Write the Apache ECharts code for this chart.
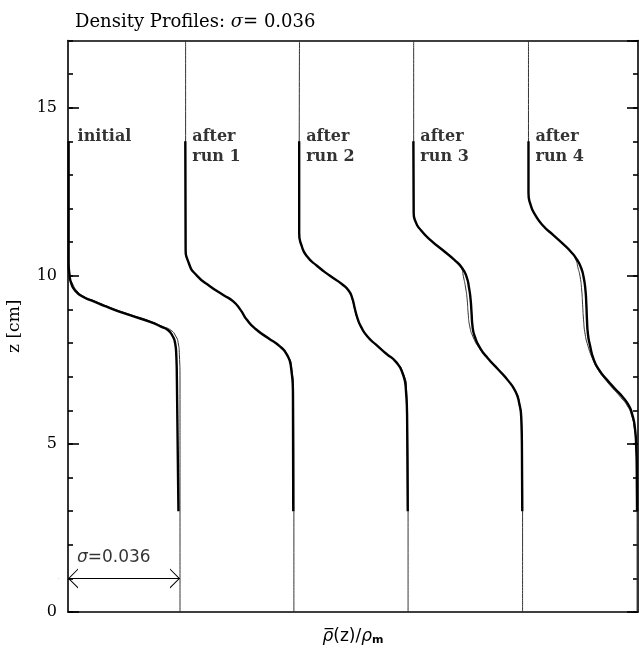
<!DOCTYPE html>
<html><head><meta charset="utf-8">
<script src="https://cdn.jsdelivr.net/npm/echarts@6/dist/echarts.min.js"></script>
<style>html,body{margin:0;padding:0;background:#fff}#c{width:639px;height:650px}</style>
</head><body><div id="c"></div>
<script>
// ---------- data (x = rho/rho_m with per-run offsets as drawn, y = z in cm) ----------
const sigma = 0.036;
const xMax = 0.1832;
const zMax = 17;
const profileNames = ['initial', 'after\nrun 1', 'after\nrun 2', 'after\nrun 3', 'after\nrun 4'];
const labelZ = [14.14, 13.84, 13.84, 13.84, 13.84];
const yTickLabels = ['0', '5', '10', '15'];

const initialThick = [[0.0002,14],[0.0002,10.42],[0.0005,10.03],[0.0011,9.76],[0.0024,9.55],[0.0045,9.39],[0.0077,9.26],[0.0135,9.04],[0.0199,8.83],[0.0264,8.63],[0.0299,8.49],[0.0322,8.38],[0.0336,8.21],[0.0344,8.01],[0.0348,7.65],[0.0350,6.90],[0.0355,3]];
const initialThin = [[0.0,17],[0.0002,10.03],[0.0015,9.76],[0.0029,9.55],[0.0051,9.39],[0.0083,9.26],[0.0141,9.04],[0.0206,8.83],[0.0270,8.63],[0.0305,8.49],[0.0331,8.38],[0.0346,8.21],[0.0354,8.01],[0.0358,7.65],[0.0360,6.90],[0.0360,3],[0.0360,0]];

const run1Thick = [[0.0377,14],[0.0378,10.87],[0.0389,10.36],[0.0415,10.0],[0.0456,9.69],[0.0499,9.43],[0.0531,9.24],[0.0555,8.98],[0.0575,8.69],[0.0604,8.41],[0.0643,8.15],[0.0681,7.90],[0.0704,7.65],[0.0717,7.26],[0.0723,6.46],[0.0724,3]];
const run1Thin = [[0.0378,17],[0.0378,10.87],[0.0389,10.36],[0.0415,10.0],[0.0456,9.69],[0.0499,9.43],[0.0531,9.24],[0.0555,8.98],[0.0575,8.69],[0.0604,8.41],[0.0643,8.15],[0.0681,7.90],[0.0705,7.65],[0.0719,7.26],[0.0725,6.46],[0.0726,3],[0.0726,0]];

const run2Thick = [[0.0743,14],[0.0743,11.28],[0.0751,10.89],[0.0768,10.58],[0.0800,10.30],[0.0842,10.0],[0.0881,9.75],[0.0903,9.55],[0.0914,9.32],[0.0922,9.02],[0.0930,8.75],[0.0942,8.48],[0.0961,8.21],[0.0990,7.95],[0.1022,7.69],[0.1054,7.44],[0.1075,7.11],[0.1086,6.61],[0.1090,5.71],[0.1092,3]];
const run2Thin = [[0.0744,17],[0.0743,11.28],[0.0751,10.89],[0.0768,10.58],[0.0800,10.30],[0.0842,10.0],[0.0881,9.75],[0.0903,9.55],[0.0913,9.32],[0.0921,9.02],[0.0929,8.75],[0.0941,8.48],[0.0961,8.21],[0.0990,7.95],[0.1022,7.69],[0.1055,7.44],[0.1077,7.11],[0.1088,6.61],[0.1091,5.71],[0.1093,3],[0.1093,0]];

const run3Thick = [[0.1110,14],[0.1111,11.88],[0.1117,11.61],[0.1135,11.35],[0.1167,11.05],[0.1205,10.76],[0.1241,10.48],[0.1266,10.24],[0.1281,9.97],[0.1289,9.64],[0.1294,9.29],[0.1297,8.90],[0.1300,8.51],[0.1308,8.18],[0.1324,7.86],[0.1350,7.54],[0.1382,7.22],[0.1414,6.89],[0.1437,6.58],[0.1450,6.22],[0.1457,5.71],[0.1459,4.82],[0.1460,3]];
const run3Thin = [[0.1111,17],[0.1111,11.88],[0.1117,11.61],[0.1135,11.35],[0.1167,11.05],[0.1205,10.76],[0.1241,10.48],[0.1264,10.24],[0.1271,9.97],[0.1278,9.64],[0.1283,9.29],[0.1286,8.90],[0.1291,8.51],[0.1302,8.18],[0.1321,7.86],[0.1349,7.54],[0.1382,7.22],[0.1414,6.89],[0.1438,6.58],[0.1451,6.22],[0.1458,5.71],[0.1460,4.82],[0.1461,3],[0.1461,0]];

const run4Thick = [[0.1480,14],[0.1480,12.47],[0.1487,12.11],[0.1501,11.82],[0.1527,11.49],[0.1559,11.22],[0.1591,10.95],[0.1617,10.71],[0.1636,10.48],[0.1649,10.24],[0.1657,9.97],[0.1663,9.58],[0.1666,9.14],[0.1668,8.69],[0.1671,8.27],[0.1678,7.92],[0.1689,7.53],[0.1707,7.20],[0.1733,6.90],[0.1758,6.64],[0.1784,6.38],[0.1803,6.13],[0.1814,5.86],[0.1822,5.48],[0.1826,4.97],[0.1828,4.23],[0.1829,3]];
const run4Thin = [[0.1480,17],[0.1480,12.47],[0.1487,12.11],[0.1501,11.82],[0.1527,11.49],[0.1559,11.22],[0.1591,10.95],[0.1616,10.71],[0.1632,10.48],[0.1639,10.24],[0.1646,9.97],[0.1651,9.58],[0.1654,9.14],[0.1657,8.69],[0.1662,8.27],[0.1671,7.92],[0.1686,7.53],[0.1704,7.20],[0.1728,6.90],[0.1752,6.64],[0.1777,6.38],[0.1798,6.13],[0.1811,5.86],[0.1820,5.48],[0.1825,4.97],[0.1828,4.23],[0.1829,3],[0.1829,0]];

const thickProfiles = [initialThick, run1Thick, run2Thick, run3Thick, run4Thick];
const thinProfiles = [initialThin, run1Thin, run2Thin, run3Thin, run4Thin];
const sigmaArrowZ = 1;
const sigmaLabelZ = 1.63;

// ---------- chart ----------
const chart = echarts.init(document.getElementById('c'), null, { renderer: 'canvas' });
const serif = 'DejaVu Serif';
const sans = 'DejaVu Sans';
const axisColor = '#000';

function lineSeries(data, width, color, z) {
  return {
    type: 'line', data: data, xAxisIndex: 0, yAxisIndex: 0,
    symbol: 'none', showSymbol: false, smooth: 0.6, silent: true, z: z,
    lineStyle: { color: color, width: width }, animation: false
  };
}

const series = [];
thinProfiles.forEach(p => series.push(lineSeries(p, 1, '#333', 2)));
thickProfiles.forEach(p => series.push(lineSeries(p, 2.4, '#000', 3)));

// chevron arrow head (tip at centre of its box)
const chevron = 'path://M10,0 L10.3,0 L10.3,0.3 L10,0.3 Z M10,10 L20,20 L18.6,20 L10,11.4 L1.4,20 L0,20 Z';
series[0].markLine = {
  silent: true, animation: false,
  symbol: [chevron, chevron], symbolSize: [20, 20],
  lineStyle: { color: '#000', width: 1, type: 'solid' },
  label: { show: false },
  data: [[{ coord: [0, sigmaArrowZ] }, { coord: [sigma, sigmaArrowZ] }]]
};

const labelBase = { color: '#000', textBorderWidth: 0, fontFamily: serif, fontWeight: 'bold', fontSize: 16, lineHeight: 20, align: 'left' };
// profile labels
series.push({
  type: 'scatter', xAxisIndex: 0, yAxisIndex: 0, symbolSize: 0, silent: true, z: 5, animation: false,
  data: thickProfiles.map((p, i) => ({
    value: [p[0][0], labelZ[i]],
    label: Object.assign({ formatter: profileNames[i], distance: i === 0 ? 9 : 7 }, labelBase)
  })),
  label: Object.assign({ show: true, position: 'right' }, labelBase)
});

// sigma label
series.push({
  type: 'scatter', xAxisIndex: 0, yAxisIndex: 0, symbolSize: 0, silent: true, z: 5, animation: false,
  data: [{ value: [0, sigmaLabelZ] }],
  label: {
    show: true, position: 'right', distance: 9, color: '#000', textBorderWidth: 0,
    formatter: '{s|σ}{n|=' + sigma.toFixed(3) + '}',
    rich: {
      s: { fontFamily: sans, fontStyle: 'italic', fontSize: 17, color: '#000' },
      n: { fontFamily: sans, fontSize: 17, color: '#000' }
    }
  }
});

const lineStyleAxis = { color: axisColor, width: 1.6 };
const noLine = { show: false, onZero: false };

const option = {
  backgroundColor: '#fff',
  animation: false,
  title: {
    text: '{t|Density Profiles: }{s|σ}{t|= ' + sigma.toFixed(3) + '}',
    left: 70, top: 8,
    textStyle: {
      fontWeight: 'normal',
      rich: {
        t: { fontFamily: serif, fontSize: 18, fontWeight: 'normal', color: '#000' },
        s: { fontFamily: serif, fontSize: 18, fontWeight: 'normal', fontStyle: 'italic', color: '#000' }
      }
    }
  },
  grid: { left: 68, right: 1, top: 40.5, bottom: 38, containLabel: false, outerBoundsMode: 'none' },
  xAxis: [
    {
      type: 'value', min: 0, max: xMax, position: 'bottom', offset: 0,
      axisLine: { show: true, onZero: false, lineStyle: lineStyleAxis },
      axisTick: { show: false }, axisLabel: { show: false }, splitLine: { show: false },
      name: '{r|ρ\u0305}{t|(z)/}{r|ρ}{m|m}', nameLocation: 'middle', nameGap: 15,
      nameTextStyle: {
        rich: {
          r: { fontFamily: sans, fontSize: 17, fontStyle: 'italic', color: '#000' },
          t: { fontFamily: sans, fontSize: 17, color: '#000' },
          m: { fontFamily: sans, fontSize: 11, fontWeight: 'bold', color: '#000', verticalAlign: 'bottom', padding: [8, 0, 0, 0] }
        }
      }
    },
    {
      type: 'value', min: 0, max: xMax, position: 'top', offset: 0,
      axisLine: { show: true, onZero: false, lineStyle: lineStyleAxis },
      axisTick: { show: false }, axisLabel: { show: false }, splitLine: { show: false }
    }
  ],
  yAxis: [
    {
      type: 'value', min: 0, max: zMax, interval: 5, position: 'left', offset: 0,
      axisLine: { show: true, onZero: false, lineStyle: lineStyleAxis },
      axisTick: { show: true, inside: true, length: 11, lineStyle: lineStyleAxis },
      axisLabel: {
        show: true, showMaxLabel: false, margin: 11, color: '#000', fontFamily: serif, fontSize: 16,
        formatter: v => { const i = yTickLabels.indexOf(String(v)); return i >= 0 ? yTickLabels[i] : ''; }
      },
      splitLine: { show: false },
      name: 'z [cm]', nameLocation: 'middle', nameGap: 45,
      nameTextStyle: { fontFamily: serif, fontSize: 17, color: '#000' }
    },
    {
      type: 'value', min: 0, max: zMax, interval: 1, position: 'left', offset: 0,
      axisLine: noLine,
      axisTick: { show: true, inside: true, length: 5, lineStyle: lineStyleAxis },
      axisLabel: { show: false }, splitLine: { show: false }
    },
    {
      type: 'value', min: 0, max: zMax, interval: 5, position: 'right', offset: 0,
      axisLine: { show: true, onZero: false, lineStyle: lineStyleAxis },
      axisTick: { show: true, inside: true, length: 11, lineStyle: lineStyleAxis },
      axisLabel: { show: false }, splitLine: { show: false }
    },
    {
      type: 'value', min: 0, max: zMax, interval: 1, position: 'right', offset: 0,
      axisLine: noLine,
      axisTick: { show: true, inside: true, length: 5, lineStyle: lineStyleAxis },
      axisLabel: { show: false }, splitLine: { show: false }
    }
  ],
  series: series
};
chart.setOption(option);
</script>
</body></html>
